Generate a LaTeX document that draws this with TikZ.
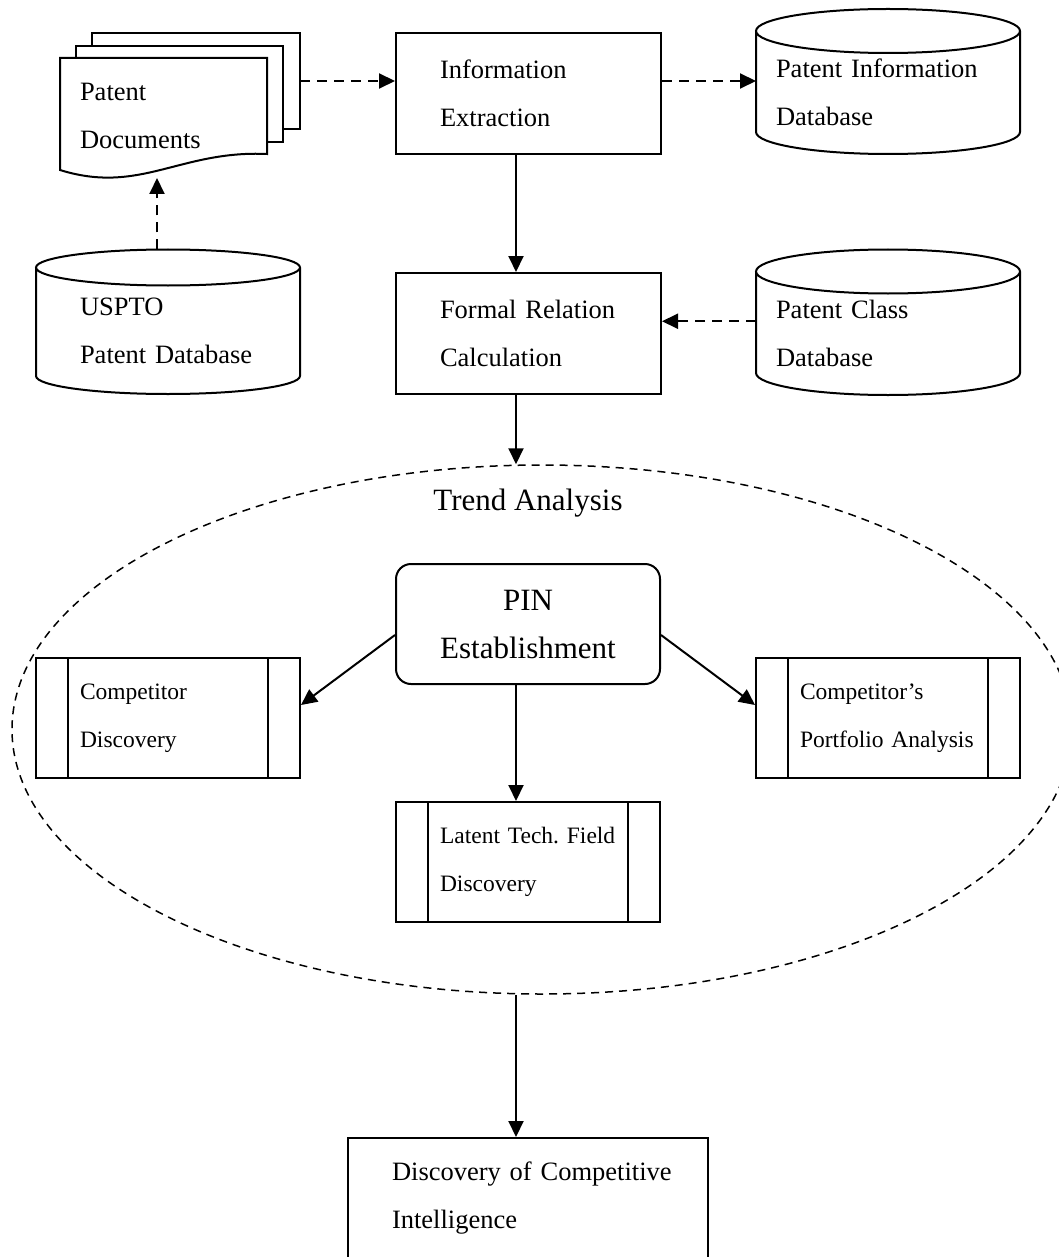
\documentclass[tikz,border=0pt]{standalone}
\usepackage{fontspec}
\setmainfont{Liberation Serif}
\usetikzlibrary{arrows.meta,positioning,calc,shapes.geometric}

% outline of a database drum drawn round a (draw=none) node
\newcommand{\drawdrum}[2]{%
  \draw[line width=2pt] (#1.north west) -- ($(#1.south west)+(0,-#2)$)
    arc[start angle=180, end angle=360, x radius=132pt, y radius=#2pt]
    -- (#1.north east)
    arc[start angle=0, end angle=180, x radius=132pt, y radius=#2pt]
    arc[start angle=180, end angle=360, x radius=132pt, y radius=#2pt];}

\begin{document}
\begin{tikzpicture}[
  x=1pt, y=-1pt,
  txt/.style={font=\fontsize{26.5}{48}\selectfont},
  smalltxt/.style={font=\fontsize{23.5}{48}\selectfont},
  bigtxt/.style={font=\fontsize{31}{48}\selectfont},
  procbox/.style={draw, line width=2pt, txt, align=left, inner ysep=0pt, inner xsep=44pt},
  drum/.style={txt, align=left, inner ysep=0pt, outer sep=0pt, minimum width=264pt},
  pinbox/.style={draw, line width=2pt, rounded corners=15pt, bigtxt, align=center,
    inner sep=0pt, minimum width=264pt, minimum height=120pt},
  subbox/.style={draw, line width=2pt, smalltxt, align=left, inner ysep=0pt, inner xsep=44pt,
    text width=176pt, minimum width=264pt, minimum height=120pt,
    path picture={
      \draw[line width=2pt] ([xshift=32pt]path picture bounding box.north west)
        -- ([xshift=32pt]path picture bounding box.south west);
      \draw[line width=2pt] ([xshift=-32pt]path picture bounding box.north east)
        -- ([xshift=-32pt]path picture bounding box.south east);}},
  trendzone/.style={ellipse, draw, line width=1.5pt, dash pattern=on 8pt off 6pt,
    inner sep=0pt, minimum width=1060pt, minimum height=529pt},
  flowarrow/.style={line width=2pt, -{Triangle[length=16pt,width=15pt]}},
  dasharrow/.style={line width=2pt, dash pattern=on 10pt off 7pt, -{Triangle[length=16pt,width=15pt]}}
]
\path[fill=white] (0,0) rectangle (1059,1257);
\useasboundingbox (0,0) rectangle (1059,1257);
\clip (0,0) rectangle (1059,1257);

% top row
\node[txt, align=left, inner ysep=0pt, inner xsep=20pt, outer sep=0pt, text width=167pt,
  minimum height=116pt] (docs) at (163.5,116) {Patent\\Documents};
\draw[line width=2pt] (60,58) -- (267,58) -- (267,154)
  .. controls (180,150) and (140,195) .. (60,170) -- cycle;
\draw[line width=2pt] (76,58) -- (76,46) -- (283,46) -- (283,142) -- (267,142);
\draw[line width=2pt] (92,46) -- (92,33) -- (300,33) -- (300,129) -- (283,129);

\node[procbox, text width=177pt, minimum height=121pt] (info) at (528.5,93.5)
  {Information\\Extraction};
\node[drum, inner xsep=20pt, text width=224pt, minimum height=123pt] (pid) at (888,92.5)
  {\mbox{Patent Information}\\Database};
\drawdrum{pid}{22}

% second row
\node[drum, inner xsep=44pt, text width=176pt, minimum height=126.5pt] (uspto) at (168,330.75)
  {USPTO\\\mbox{Patent Database}};
\drawdrum{uspto}{18}
\node[procbox, text width=177pt, minimum height=121pt] (formal) at (528.5,333.5)
  {\mbox{Formal Relation}\\Calculation};
\node[drum, inner xsep=20pt, text width=224pt, minimum height=123.5pt] (pcd) at (888,333.25)
  {Patent Class\\Database};
\drawdrum{pcd}{22}

% trend analysis
\node[trendzone] (trend) at (542,729.5) {};
\node[pinbox] (pin) at (528,624) {PIN\\Establishment};
\node[bigtxt, inner sep=0pt, anchor=north] (trendlabel) at ($(trend.north -| pin.north)+(0,25)$)
  {Trend Analysis};
\node[subbox] (comp) at (168,718) {Competitor\\Discovery};
\node[subbox] (port) at (888,718) {Competitor’s\\\mbox{Portfolio Analysis}};
\node[subbox] (latent) at (528,862) {\mbox{Latent Tech.\ Field}\\Discovery};

\node[procbox, text width=272pt, minimum height=120pt] (dci) at (528,1198)
  {\mbox{Discovery of Competitive}\\Intelligence};

% connectors
\coordinate (docsout) at (300,81);
\coordinate (docsin) at (157,178);
\coordinate (spine) at (516,0);
\coordinate (classout) at ($(pcd.west)+(0,-12)$);

\draw[dasharrow] (docsout) -- (docsout -| info.west);
\draw[dasharrow] (docsout -| info.east) -- (docsout -| pid.west);
\draw[dasharrow] ($(uspto.north)+(-11,-18)$) -- (docsin);
\draw[flowarrow] (info.south -| spine) -- (formal.north -| spine);
\draw[dasharrow] (classout) -- (classout -| formal.east);
\draw[flowarrow] (formal.south -| spine) -- (trend.north -| spine);
\draw[flowarrow] ($(pin.west)+(0,11)$) -- ($(comp.east)+(0,-13)$);
\draw[flowarrow] ($(pin.east)+(0,11)$) -- ($(port.west)+(0,-13)$);
\draw[flowarrow] (pin.south -| spine) -- (latent.north -| spine);
\draw[flowarrow] (trend.south -| spine) -- (dci.north -| spine);
\end{tikzpicture}
\end{document}
